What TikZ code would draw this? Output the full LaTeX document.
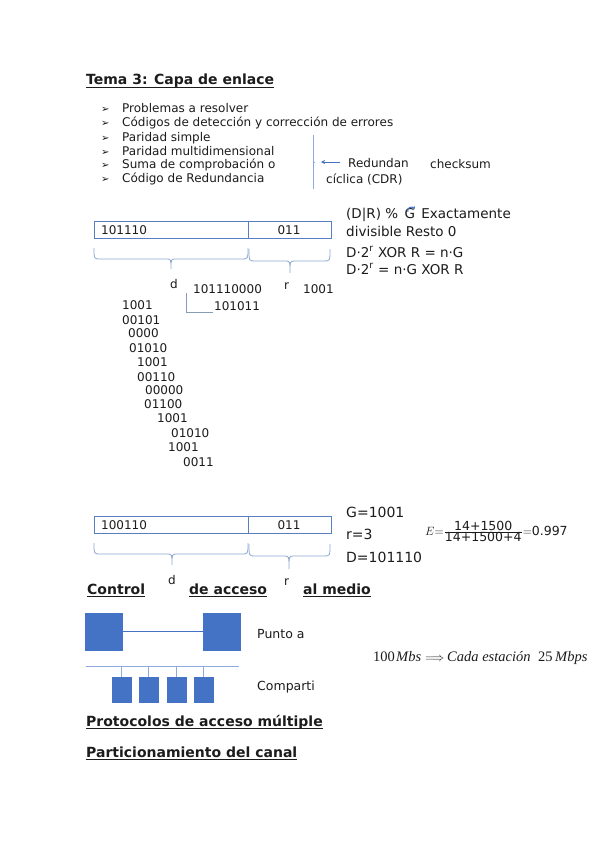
\documentclass[tikz,border=0pt]{standalone}
\usepackage{fontspec}
\setmainfont{DejaVu Sans}
\newfontfamily\serifm{Liberation Serif}
\usetikzlibrary{arrows.meta}
\definecolor{boxblue}{HTML}{5A7EC2}
\definecolor{fillblue}{HTML}{4472C4}
\definecolor{braceblue}{HTML}{8FA8D2}
\definecolor{lineblue}{HTML}{8EA9DB}
\definecolor{divgray}{HTML}{8A9BB8}
\definecolor{txtc}{HTML}{1C1C1C}
\newcommand\mybrace[6]{%
  \draw[bracestyle] (#1,#4) .. controls (#1,#5) .. (#1+6,#5) -- (#2-5,#5)
    .. controls (#2,#5) .. (#2,#6) .. controls (#2,#5) .. (#2+5,#5)
    -- (#3-6,#5) .. controls (#3,#5) .. (#3,#4);}
\begin{document}
\begin{tikzpicture}[x=1pt,y=-1pt,
  txt/.style={anchor=base west, inner sep=0pt, text=txtc, font=\fontsize{12}{14}\selectfont},
  head/.style={txt, font=\fontsize{14}{16}\selectfont\bfseries},
  bigt/.style={txt, font=\fontsize{13.5}{16}\selectfont},
  gtxt/.style={txt, font=\fontsize{14}{16}\selectfont},
  bul/.style={txt, font=\fontsize{10}{12}\selectfont},
  sert/.style={txt, font=\fontsize{14.5}{16}\selectfont\serifm},
  cell/.style={draw=boxblue, line width=1pt, anchor=north west, inner sep=0pt, minimum height=17pt},
  bracestyle/.style={draw=braceblue, line width=0.8pt},
  uline/.style={draw=txtc, line width=0.9pt},
  blk/.style={fill=fillblue, draw=fillblue, anchor=north west, inner sep=0pt},
  link/.style={draw=fillblue, line width=0.8pt},
  bus/.style={draw=lineblue, line width=1pt},
  arr/.style={draw=fillblue, line width=0.8pt, -{Stealth[length=4pt,width=4pt]}}
]
\useasboundingbox (0,0) rectangle (599,848);
\fill[white] (0,0) rectangle (599,848);

% title
\node[head] (title) at (86,85) {Tema 3: Capa de enlace};
\draw[uline] ([yshift=-2pt]title.base west) -- ([yshift=-2pt]title.base east);

% bullets
\foreach \y/\t [count=\i] in {113/Problemas a resolver,
  127/Códigos de detección y corrección de errores,
  141/Paridad simple,
  155/Paridad multidimensional,
  168/Suma de comprobación o,
  182/Código de Redundancia}{
  \node[bul] (b\i) at (101,\y) {➢};
  \node[txt] (bt\i) at (122,\y) {\t};
}

% bracket and arrow
\coordinate (vt) at (313,135);
\coordinate (vb) at (313,189);
\draw[draw=lineblue, line width=0.9pt] (vt) -- (vb);
\coordinate (vm) at (313,162);
\draw[draw=lineblue, line width=0.9pt] (vm) -- ++(2,0);
\node[txt] (red) at (348,167) {Redundan};
\node[txt] (cic) at (326,183) {cíclica (CDR)};
\node[txt] (chk) at (430,168) {checksum};
\coordinate (atail) at (340,162);
\coordinate (ahead) at (321,162);
\draw[arr] (atail) -- (ahead);

% frame 1
\node[cell, minimum width=154pt] (d1) at (94,221) {};
\node[cell, minimum width=83pt] (r1) at (248,221) {};
\node[txt] (d1t) at (101,234) {101110};
\node[txt, anchor=base] (r1t) at (289,234) {011};
\mybrace{94}{171}{248}{248}{259}{269}
\mybrace{249}{290}{330}{249}{261}{273}
\node[txt] (dl1) at (170,288) {d};
\node[txt] (rl1) at (284,289) {r};
\node[txt] (gen) at (303,293) {1001};
\node[txt] (dividend) at (193,293) {101110000};
\node[txt] (quot) at (214,310) {101011};
\coordinate (dv1) at (186,293);
\coordinate (dv2) at (186,312);
\coordinate (dv3) at (213,312);
\draw[draw=divgray, line width=0.8pt] (dv1) -- (dv2) -- (dv3);

% long division
\foreach \x/\y/\t [count=\i] in {122/309.5/1001, 122/324.5/00101, 128/337.5/0000,
  129/352.5/01010, 137/366.5/1001, 137/381/00110, 145/394.5/00000,
  144/408.5/01100, 157/422.5/1001, 171/437.5/01010, 168/451.5/1001, 183/466/0011}{
  \node[txt] (ld\i) at (\x,\y) {\t};
}

% right text
\node[bigt] (dr) at (346,218) {(D|R) \%};
\node[bigt] (gg) at ([xshift=6pt]dr.base east) {G};
\node[bigt] (ex) at ([xshift=6pt]gg.base east) {Exactamente};
\draw[draw=fillblue, line width=1pt, -{Stealth[length=3pt,width=3.5pt]}]
  ([xshift=-2pt,yshift=-4pt]gg.north) arc[start angle=200, end angle=20, radius=3.5pt];
\node[bigt] (div) at (346,236) {divisible Resto 0};
\node[bigt] (eq1) at (346,257) {D·2\textsuperscript{r} XOR R = n·G};
\node[bigt] (eq2) at (346,274) {D·2\textsuperscript{r} = n·G XOR R};

% frame 2
\node[cell, minimum width=154pt] (d2) at (94,516) {};
\node[cell, minimum width=83pt] (r2) at (248,516) {};
\node[txt] (d2t) at (101,529) {100110};
\node[txt, anchor=base] (r2t) at (289,529) {011};
\mybrace{94}{172}{248}{543}{554}{565}
\mybrace{249}{289}{330}{544}{556}{569}

\node[gtxt] (gv) at (346,517) {G=1001};
\node[gtxt] (rv) at (346,539) {r=3};
\node[gtxt] (dv) at (346,562) {D=101110};
\node[txt, font=\fontsize{12.5}{14}\selectfont] (form) at (425,535)
  {$E{=}\frac{\mbox{14+1500}}{\mbox{14+1500+4}}{=}$0.997};

% control heading
\node[head] (h1) at (87,594) {Control};
\draw[uline] ([yshift=-2pt]h1.base west) -- ([yshift=-2pt]h1.base east);
\node[txt] (dl2) at (168,584) {d};
\node[head] (h2) at (189,594) {de acceso};
\draw[uline] ([yshift=-2pt]h2.base west) -- ([yshift=-2pt]h2.base east);
\node[txt] (rl2) at (284,585) {r};
\node[head] (h3) at (303,594) {al medio};
\draw[uline] ([yshift=-2pt]h3.base west) -- ([yshift=-2pt]h3.base east);

% point to point
\node[blk, minimum size=37pt] (s1) at (85,613) {};
\node[blk, minimum size=37pt] (s2) at (203,613) {};
\draw[link] (s1) -- (s2);
\node[txt, font=\fontsize{12.5}{14}\selectfont] (pa) at (257,638) {Punto a};

% shared
\coordinate (bl) at (86,666);
\coordinate (br) at (239,666);
\draw[bus] (bl) -- (br);
\foreach \x [count=\i] in {112,139,167,194}{
  \node[blk, minimum width=19pt, minimum height=25pt] (q\i) at (\x,677) {};
  \draw[bus, line width=0.8pt] (q\i.north) -- (q\i.north |- bl);
}
\node[txt, font=\fontsize{12.5}{14}\selectfont] (comp) at (257,690) {Comparti};

% rate formula
\node[sert] (m1) at (373,661) {100};
\node[sert] (m2) at (396,661) {\textit{Mbs}};
\node[sert, font=\fontsize{11.5}{14}\selectfont] (m3) at (425,661) {$\Longrightarrow$};
\node[sert] (m4) at (447,661) {\textit{Cada estación}};
\node[sert] (m5) at (538,661) {25};
\node[sert] (m6) at (555,661) {\textit{Mbps}};

% headings
\node[head] (h4) at (86,726) {Protocolos de acceso múltiple};
\draw[uline] ([yshift=-2pt]h4.base west) -- ([yshift=-2pt]h4.base east);
\node[head] (h5) at (86,757) {Particionamiento del canal};
\draw[uline] ([yshift=-2pt]h5.base west) -- ([yshift=-2pt]h5.base east);
\end{tikzpicture}
\end{document}
